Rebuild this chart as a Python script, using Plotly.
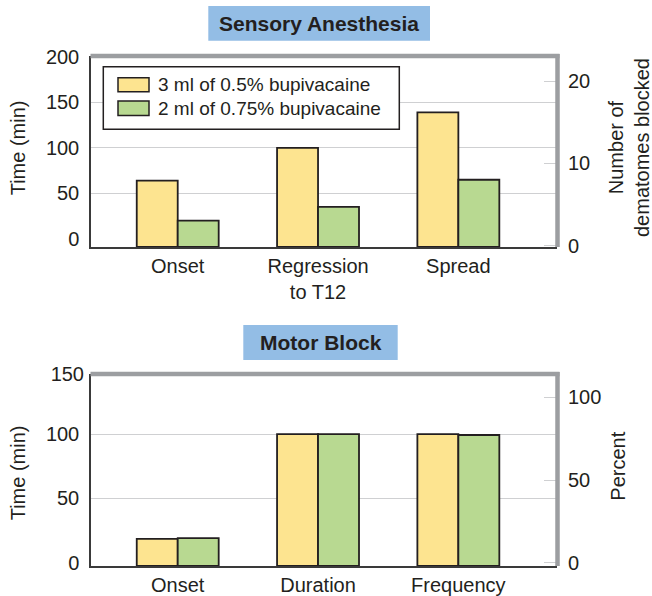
import plotly.graph_objects as go

# ---------------- data ----------------
sensory_categories = ["Onset", "Regression<br>to T12", "Spread"]
sensory_3ml_05 = [64, 100, 16.2]     # Onset/Regression in min, Spread in dermatomes
sensory_2ml_075 = [20, 35, 8.0]
motor_categories = ["Onset", "Duration", "Frequency"]
motor_3ml_05 = [18.4, 100, 77.8]     # Onset/Duration in min, Frequency in percent
motor_2ml_075 = [19.1, 100, 77.2]
series_names = ["3 ml of 0.5% bupivacaine", "2 ml of 0.75% bupivacaine"]

left_ticks_top = [0, 50, 100, 150, 200]
right_ticks_top = [0, 10, 20]
left_ticks_bot = [0, 50, 100]
left_ticks_bot_edge = [150]
right_ticks_bot = [0, 50, 100]

# ---------------- style ----------------
W, H = 652, 596
ML, MR, MT, MB = 91, 95, 56, 30
PW, PH = W - ML - MR, H - MT - MB
YELLOW = "#fde490"
GREEN = "#b8d991"
BLUE = "#93bde5"
DARK = "#231f20"
GRID = "#cfd0d2"
BORDER = "#9c9ea1"
FONT = "Liberation Sans, Arial, sans-serif"


def px(x):
    return (x - ML) / PW


def py(y):
    return (MT + PH - y) / PH


top_dom = [py(247), 1.0]
bot_dom = [0.0, py(374)]

# axis ranges (min chosen so the baseline sits on the drawn axis line)
TOP_L = [-9.0, 200.9]
TOP_R = [-0.17, 23.04]
BOT_L = [-2.64, 146.7]
BOT_L_EDGE = [-2.6, 150.2]
BOT_R = [-2.0, 114.1]
XR = [-0.618, 2.703]
BW = 0.292

fig = go.Figure()


def add_bars(xs, vals, color, name, xa, ya, base, offset):
    fig.add_trace(go.Bar(
        x=xs, y=[v - base for v in vals], base=base, width=BW, offset=offset,
        marker=dict(color=color, line=dict(color=DARK, width=1.8)),
        name=name, xaxis=xa, yaxis=ya, showlegend=False))


# top panel: Onset, Regression on left (min); Spread on right (dermatomes)
add_bars([0, 1], sensory_3ml_05[:2], YELLOW, series_names[0], "x", "y", TOP_L[0], -BW)
add_bars([0, 1], sensory_2ml_075[:2], GREEN, series_names[1], "x", "y", TOP_L[0], 0)
add_bars([2], sensory_3ml_05[2:], YELLOW, series_names[0], "x", "y2", TOP_R[0], -BW)
add_bars([2], sensory_2ml_075[2:], GREEN, series_names[1], "x", "y2", TOP_R[0], 0)
# bottom panel: Onset, Duration on left (min); Frequency on right (percent)
add_bars([0, 1], motor_3ml_05[:2], YELLOW, series_names[0], "x2", "y3", BOT_L[0], -BW)
add_bars([0, 1], motor_2ml_075[:2], GREEN, series_names[1], "x2", "y3", BOT_L[0], 0)
add_bars([2], motor_3ml_05[2:], YELLOW, series_names[0], "x2", "y4", BOT_R[0], -BW)
add_bars([2], motor_2ml_075[2:], GREEN, series_names[1], "x2", "y4", BOT_R[0], 0)
# empty helper trace so the edge-label axis (150 on the bottom time axis) is drawn
fig.add_trace(go.Scatter(x=[None], y=[None], xaxis="x2", yaxis="y5", mode="markers",
                         hoverinfo="skip", showlegend=False))

tickfont = dict(family=FONT, size=20, color=DARK)


def xaxis(anchor, cats):
    return dict(anchor=anchor, domain=[0, 1], range=XR, tickvals=[0, 1, 2], ticktext=cats,
                showline=True, linecolor="#3a3a3a", linewidth=1.5, ticks="", showgrid=False,
                zeroline=False, tickfont=tickfont, ticklabelstandoff=0, fixedrange=True)


def yleft(dom, rng, tv, anchor):
    return dict(domain=dom, range=rng, tickvals=tv, anchor=anchor, showline=True,
                linecolor="#3a3a3a", linewidth=1.5, ticks="", showgrid=True,
                gridcolor=GRID, gridwidth=1.3, zeroline=True,
                zerolinecolor="rgba(0,0,0,0)", tickfont=tickfont, ticklabelstandoff=6)


def yright(over, rng, tv, anchor):
    return dict(overlaying=over, side="right", range=rng, tickvals=tv, anchor=anchor,
                showline=False, ticks="inside", ticklen=13, tickcolor=GRID, tickwidth=1.3,
                showgrid=False, zeroline=False, tickfont=tickfont, ticklabelstandoff=10)


shapes = []
annotations = []


def border(y_top, y_bot):
    shapes.append(dict(type="line", xref="paper", yref="paper", x0=px(90.5), x1=px(559.5),
                       y0=py(y_top), y1=py(y_top), line=dict(color=BORDER, width=4.5)))
    shapes.append(dict(type="line", xref="paper", yref="paper", x0=px(557.5), x1=px(557.5),
                       y0=py(y_top - 2), y1=py(y_bot), line=dict(color=BORDER, width=4.5)))


border(56, 247)
border(374, 566)


def title_box(x0, x1, y0, y1, text):
    shapes.append(dict(type="rect", xref="paper", yref="paper", x0=px(x0), x1=px(x1),
                       y0=py(y1), y1=py(y0), fillcolor=BLUE, line=dict(width=0), layer="above"))
    annotations.append(dict(xref="paper", yref="paper", x=px((x0 + x1) / 2), y=py((y0 + y1) / 2),
                            text="<b>%s</b>" % text, showarrow=False, xanchor="center",
                            yanchor="middle", font=dict(family=FONT, size=21, color=DARK)))


title_box(208.3, 430, 6, 40.7, "Sensory Anesthesia")
title_box(243.3, 397.7, 325, 360, "Motor Block")

# legend
shapes.append(dict(type="rect", xref="paper", yref="paper", x0=px(103.3), x1=px(399.3),
                   y0=py(129.3), y1=py(66.7), fillcolor="white", line=dict(color=DARK, width=1.5)))
for (y0, y1, col, name) in [(77.7, 91.7, YELLOW, series_names[0]), (101, 115.5, GREEN, series_names[1])]:
    shapes.append(dict(type="rect", xref="paper", yref="paper", x0=px(118), x1=px(149),
                       y0=py(y1), y1=py(y0), fillcolor=col, line=dict(color=DARK, width=1.5)))
    annotations.append(dict(xref="paper", yref="paper", x=px(155.5), y=py((y0 + y1) / 2),
                            text=name, showarrow=False, xanchor="left", yanchor="middle",
                            font=dict(family=FONT, size=19, color=DARK)))


def ytitle(x, y, text):
    annotations.append(dict(xref="paper", yref="paper", x=px(x), y=py(y), text=text,
                            textangle=-90, showarrow=False, xanchor="center", yanchor="middle",
                            font=dict(family=FONT, size=20, color=DARK)))


ytitle(18.3, 148, "Time (min)")
ytitle(18.3, 473, "Time (min)")
ytitle(629, 148, "Number of<br>dematomes blocked")
ytitle(617.7, 466, "Percent")

fig.update_layout(
    width=W, height=H, margin=dict(l=ML, r=MR, t=MT, b=MB, autoexpand=False),
    paper_bgcolor="white", plot_bgcolor="white", barmode="overlay",
    xaxis=xaxis("y", sensory_categories),
    yaxis=yleft(top_dom, TOP_L, left_ticks_top, "x"),
    yaxis2=yright("y", TOP_R, right_ticks_top, "x"),
    xaxis2=xaxis("y3", motor_categories),
    yaxis3=yleft(bot_dom, BOT_L, left_ticks_bot, "x2"),
    yaxis4=yright("y3", BOT_R, right_ticks_bot, "x2"),
    # top label of the bottom panel's time axis, which sits on the panel's upper border
    yaxis5=dict(overlaying="y3", side="left", anchor="x2", range=BOT_L_EDGE,
                tickvals=left_ticks_bot_edge, showline=False, showgrid=False, zeroline=False,
                ticks="", tickfont=tickfont, ticklabelstandoff=6),
    shapes=shapes, annotations=annotations, showlegend=False,
)

fig.write_html(
    "out.html",
    config={"displayModeBar": False},
    post_script="document.body.style.margin='0';document.body.style.overflow='hidden';",
)
